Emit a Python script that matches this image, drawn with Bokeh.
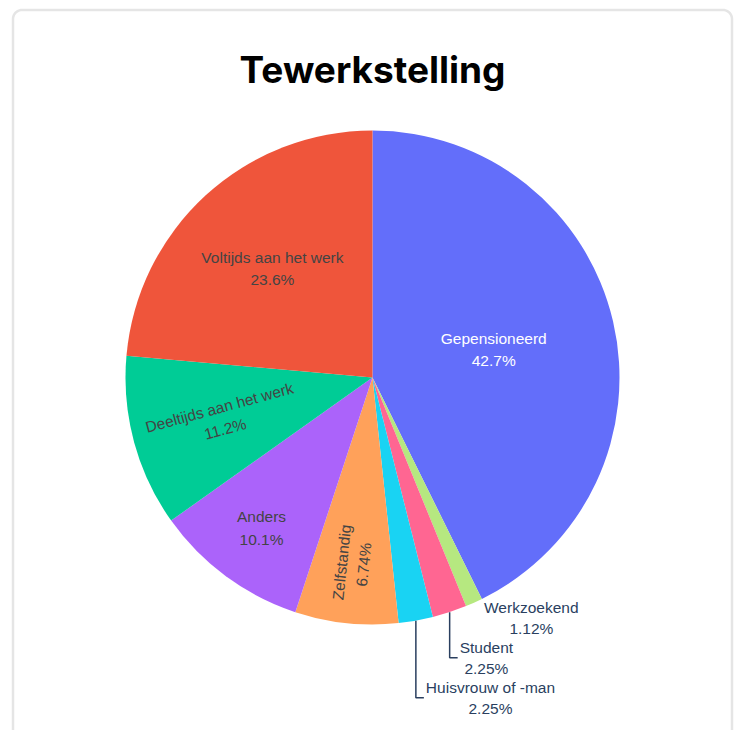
import math
import numpy as np
from bokeh.plotting import figure
from bokeh.models import Range1d
from bokeh.core.properties import value
from bokeh.embed import file_html
from bokeh.resources import INLINE

# ---- data ----
categories = ["Gepensioneerd", "Werkzoekend", "Student", "Huisvrouw of -man",
              "Zelfstandig", "Anders", "Deeltijds aan het werk", "Voltijds aan het werk"]
counts = [38, 1, 2, 2, 6, 9, 10, 21]
colors = ["#636efa", "#b6e880", "#ff6692", "#19d3f3",
          "#ffa15a", "#ab63fa", "#00cc96", "#ef553b"]
title_text = "Tewerkstelling"

# ---- layout / style ----
W, H = 740, 730
CX, CY, R = 372, H - 377, 247
inside_r = {"Gepensioneerd": 0.504, "Zelfstandig": 0.757, "Anders": 0.757,
            "Deeltijds aan het werk": 0.63, "Voltijds aan het werk": 0.6}
rotated = {"Zelfstandig", "Deeltijds aan het werk"}
outside = ["Werkzoekend", "Student", "Huisvrouw of -man"]
LABEL_FONT = "Liberation Sans"
LABEL_SIZE = 15.5

# Arial-compatible advance widths (per 1000 em) to centre the second line
ADV = {'a': 556, 'b': 556, 'c': 500, 'd': 556, 'e': 556, 'f': 278, 'g': 556, 'h': 556,
       'i': 222, 'j': 222, 'k': 500, 'l': 222, 'm': 833, 'n': 556, 'o': 556, 'p': 556,
       'r': 333, 's': 500, 't': 278, 'u': 556, 'v': 500, 'w': 722, 'z': 500, ' ': 278,
       '-': 333, 'H': 722, 'S': 667, 'W': 944, 'G': 778, '.': 278, '%': 889}


def text_w(s, size):
    return sum(ADV.get(ch, 556) for ch in s) * size / 1000.0


p = figure(width=W, height=H, x_range=Range1d(0, W), y_range=Range1d(0, H),
           toolbar_location=None, output_backend="svg", min_border=0)
p.axis.visible = False
p.grid.visible = False
p.outline_line_color = None
p.background_fill_color = "white"
p.border_fill_color = "white"

# ---- card border (rounded rectangle) ----
left, right, top, bottom, rad = 12.5, 731.5, H - 9.5, -30, 9
xs, ys = [], []
for (ccx, ccy, a0, a1) in [(right - rad, top - rad, 0, 90), (left + rad, top - rad, 90, 180)]:
    for a in np.linspace(a0, a1, 12):
        xs.append(ccx + rad * math.cos(math.radians(a)))
        ys.append(ccy + rad * math.sin(math.radians(a)))
xs = [right] + xs + [left]
ys = [bottom] + ys + [bottom]
p.line(xs, ys, line_color="#e5e5e5", line_width=2.5)

# ---- pie ----
total = sum(counts)
fracs = [c / total for c in counts]
cum = np.concatenate([[0], np.cumsum(fracs)])
start = [math.pi / 2 - 2 * math.pi * cum[i] for i in range(len(counts))]
end = [math.pi / 2 - 2 * math.pi * cum[i + 1] for i in range(len(counts))]
p.wedge(x=CX, y=CY, radius=R, start_angle=start, end_angle=end, direction="clock",
        fill_color=colors, line_color=None)

pct = [f"{100 * f:.3g}%" for f in fracs]

# ---- inside labels ----
for i, cat in enumerate(categories):
    if cat in outside:
        continue
    mid = (start[i] + end[i]) / 2
    r = inside_r[cat] * R
    x = CX + r * math.cos(mid)
    y = CY + r * math.sin(mid)
    ang = 0.0
    if cat in rotated:
        ang = mid + math.pi if math.cos(mid) < 0 else mid
    col = "white" if cat == "Gepensioneerd" else "#444444"
    p.text(x=[x], y=[y], text=[f"{cat}\n{pct[i]}"], angle=ang,
           text_align="center", text_baseline="middle",
           text_font=value(LABEL_FONT), text_font_size=f"{LABEL_SIZE}px",
           text_color=col, text_line_height=1.3)

# ---- outside labels with leader lines ----
block_y = None
for cat in outside:
    i = categories.index(cat)
    mid = (start[i] + end[i]) / 2
    ex = CX + R * math.cos(mid)
    ey = CY + R * math.sin(mid)
    if block_y is None:
        block_y = ey - 15
    else:
        block_y -= 40
    if ey - block_y > 20:
        p.line([ex, ex, ex + 8], [ey, block_y, block_y], line_color="#2a3f5f", line_width=1.5)
    lx = ex + 10
    w = text_w(cat, LABEL_SIZE)
    p.text(x=[lx], y=[block_y + 10.5], text=[cat], text_align="left", text_baseline="middle",
           text_font=value(LABEL_FONT), text_font_size=f"{LABEL_SIZE}px", text_color="#2a3f5f")
    p.text(x=[lx + w / 2], y=[block_y - 10.5], text=[pct[i]], text_align="center",
           text_baseline="middle", text_font=value(LABEL_FONT),
           text_font_size=f"{LABEL_SIZE}px", text_color="#2a3f5f")

# ---- title ----
p.text(x=[372], y=[H - 69], text=[title_text], text_align="center", text_baseline="alphabetic",
       text_font=value("Inter"), text_font_style="bold", text_font_size="37px",
       text_color="black")

open("out.html", "w").write(file_html(p, INLINE))
